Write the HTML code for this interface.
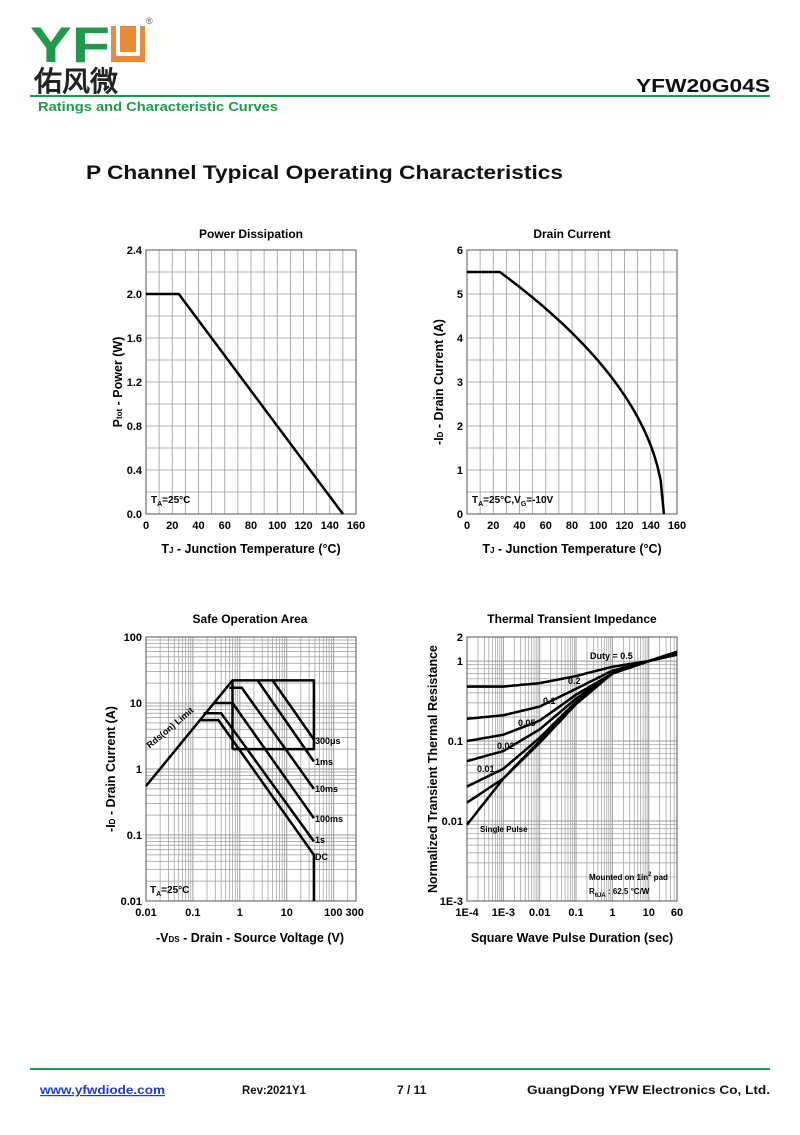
<!DOCTYPE html>
<html><head><meta charset="utf-8"><style>
html,body{margin:0;padding:0;background:#fff}
svg text{font-family:"Liberation Sans",Arial,sans-serif}
</style></head><body>
<svg id="s" width="800" height="1130" xmlns="http://www.w3.org/2000/svg">
<!-- header -->
<text x="30" y="62" font-size="50" font-weight="bold" fill="#1f9a4a" textLength="80" lengthAdjust="spacingAndGlyphs">YF</text>
<rect x="111" y="26" width="34" height="36" fill="#ec8a3c"/>
<path d="M118 26 V54 H138 V26" fill="none" stroke="#fff" stroke-width="4"/>
<text x="146" y="24" font-size="9" fill="#555">®</text>
<text x="34" y="91" font-size="28" font-weight="bold" fill="#222" font-family="'Noto Sans CJK SC',sans-serif">佑风微</text>
<text x="770" y="92" font-size="18" font-weight="bold" text-anchor="end" fill="#111" textLength="134" lengthAdjust="spacingAndGlyphs">YFW20G04S</text>
<rect x="30" y="95" width="740" height="2" fill="#1f9a4a"/>
<text x="38" y="111" font-size="13" font-weight="bold" fill="#1f9a4a" textLength="240" lengthAdjust="spacingAndGlyphs">Ratings and Characteristic Curves</text>
<text x="86" y="179" font-size="19" font-weight="bold" fill="#111" textLength="477" lengthAdjust="spacingAndGlyphs">P Channel Typical Operating Characteristics</text>
<!-- footer -->
<rect x="30" y="1068" width="740" height="2" fill="#1f9a4a"/>
<text x="40" y="1094" font-size="12" font-weight="bold" fill="#1a3fc0" text-decoration="underline" textLength="125" lengthAdjust="spacingAndGlyphs">www.yfwdiode.com</text>
<text x="242" y="1094" font-size="12" font-weight="bold" fill="#111" textLength="64" lengthAdjust="spacingAndGlyphs">Rev:2021Y1</text>
<text x="397" y="1094" font-size="12" font-weight="bold" fill="#111">7 / 11</text>
<text x="527" y="1094" font-size="12" font-weight="bold" fill="#111" textLength="243" lengthAdjust="spacingAndGlyphs">GuangDong YFW Electronics Co, Ltd.</text>
<g id="g"></g>
</svg>
<script>
var g=document.getElementById('g'),h='';
function L(x1,y1,x2,y2,c,w){h+='<line x1="'+x1+'" y1="'+y1+'" x2="'+x2+'" y2="'+y2+'" stroke="'+c+'" stroke-width="'+w+'"/>';}
function T(x,y,t,s,a,extra){h+='<text x="'+x+'" y="'+y+'" font-size="'+s+'" font-weight="bold" text-anchor="'+(a||'start')+'" '+(extra||'')+'>'+t+'</text>';}
function P(pts,w){h+='<polyline fill="none" stroke="#000" stroke-width="'+(w||2.5)+'" stroke-linejoin="round" points="'+pts.map(p=>p[0].toFixed(1)+','+p[1].toFixed(1)).join(' ')+'"/>';}
var GC='#9a9a9a';
function lin(x0,title,ylab,yt,cur,note){
 var l=x0,r=x0+210,t=250,b=514;
 for(var i=0;i<=16;i++)L(l+i*210/16,t,l+i*210/16,b,GC,0.8);
 for(var j=0;j<=12;j++)L(l,t+j*22,r,t+j*22,GC,0.8);
 h+='<rect x="'+l+'" y="'+t+'" width="210" height="264" fill="none" stroke="#555" stroke-width="1"/>';
 T((l+r)/2,238,title,12,'middle');
 for(var j=0;j<=6;j++)T(l-4,b-j*44+4,yt[j],11,'end');
 for(var i=0;i<=8;i++)T(l+i*26.25,529,i*20,11,'middle');
 T((l+r)/2,553,'T<tspan font-size="8">J</tspan> - Junction Temperature (°C)',12.5,'middle','font-weight="normal"');
 T(l-24,382,ylab,12.5,'middle','transform="rotate(-90 '+(l-24)+' 382)"');
 P(cur);
 T(l+5,503,note,10,'start');
}
var c1=[[146,294],[146+25*210/160,294],[146+150*210/160,514]];
lin(146,'Power Dissipation','P<tspan font-size="8">tot</tspan> - Power (W)',['0.0','0.4','0.8','1.2','1.6','2.0','2.4'],c1,'T<tspan font-size="7" dy="3">A</tspan><tspan dy="-3">=25°C</tspan>');
var c2=[[467,272]];
for(var T2=25;T2<=150;T2+=2.5){var I=5.5*Math.sqrt(Math.max(0,(150-T2)/125));c2.push([467+T2*210/160,514-I*44]);}
lin(467,'Drain Current','-I<tspan font-size="8">D</tspan> - Drain Current (A)',['0','1','2','3','4','5','6'],c2,'T<tspan font-size="7" dy="3">A</tspan><tspan dy="-3">=25°C,V</tspan><tspan font-size="7" dy="3">G</tspan><tspan dy="-3">=-10V</tspan>');
function logGrid(l,r,t,b,xa,xb,ya,yb){
 var fx=v=>l+(Math.log10(v)-xa)*(r-l)/(xb-xa),fy=v=>b-(Math.log10(v)-ya)*(b-t)/(yb-ya);
 for(var d=Math.floor(xa);d<=Math.ceil(xb);d++)for(var k=1;k<10;k++){var v=k*Math.pow(10,d),lv=Math.log10(v);if(lv>=xa-1e-9&&lv<=xb+1e-9)L(fx(v),t,fx(v),b,GC,k==1?1:0.7);}
 for(var d=Math.floor(ya);d<=Math.ceil(yb);d++)for(var k=1;k<10;k++){var v=k*Math.pow(10,d),lv=Math.log10(v);if(lv>=ya-1e-9&&lv<=yb+1e-9)L(l,fy(v),r,fy(v),GC,k==1?1:0.7);}
 h+='<rect x="'+l+'" y="'+t+'" width="'+(r-l)+'" height="'+(b-t)+'" fill="none" stroke="#555" stroke-width="1"/>';
 return [fx,fy];
}
var f=logGrid(146,356,637,901,-2,Math.log10(300),-2,2),fx=f[0],fy=f[1];
function PL(a){P(a.map(p=>[fx(p[0]),fy(p[1])]));}
T(250,623,'Safe Operation Area',12,'middle');
[['100',100],['10',10],['1',1],['0.1',0.1],['0.01',0.01]].forEach(a=>T(142,fy(a[1])+4,a[0],11,'end'));
[['0.01',0.01],['0.1',0.1],['1',1],['10',10]].forEach(a=>T(fx(a[1]),916,a[0],11,'middle'));
T(344,916,'100 300',11,'middle');
T(250,942,'-V<tspan font-size="8">DS</tspan> - Drain - Source Voltage (V)',12.5,'middle','font-weight="normal"');
T(115,769,'-I<tspan font-size="8">D</tspan> - Drain Current (A)',12.5,'middle','transform="rotate(-90 115 769)"');
PL([[0.01,0.55],[0.7,22]]);
PL([[0.7,2],[0.7,22],[38,22],[38,2],[0.7,2]]);
PL([[5,22],[38,2.8]]);PL([[2.4,22],[38,1.3]]);
PL([[0.6,17],[1.1,17],[38,0.5]]);PL([[0.29,10],[0.7,10],[38,0.18]]);
PL([[0.17,7],[0.4,7],[38,0.08]]);PL([[0.15,5.5],[0.35,5.5],[38,0.05],[38,0.01]]);
T(315,744,'300μs',9,'start');T(315,765,'1ms',9,'start');T(315,792,'10ms',9,'start');T(315,822,'100ms',9,'start');T(315,843,'1s',9,'start');T(315,860,'DC',9,'start');
T(172,730,'Rds(on) Limit',9,'middle','transform="rotate(-40 172 730)"');
T(150,893,'T<tspan font-size="7" dy="3">A</tspan><tspan dy="-3">=25°C</tspan>',10,'start');
f=logGrid(467,677,637,901,-4,Math.log10(60),-3,Math.log10(2));fx=f[0];fy=f[1];
function PS(a){var q=[];for(var i=0;i<a.length-1;i++){for(var s=0;s<10;s++){var u=s/10,x=Math.pow(10,Math.log10(a[i][0])*(1-u)+Math.log10(a[i+1][0])*u),y=Math.pow(10,Math.log10(a[i][1])*(1-u)+Math.log10(a[i+1][1])*u);q.push([fx(x),fy(y)]);}}q.push([fx(a[a.length-1][0]),fy(a[a.length-1][1])]);P(q);}
T(572,623,'Thermal Transient Impedance',12,'middle');
[['2',2],['1',1],['0.1',0.1],['0.01',0.01],['1E-3',0.001]].forEach(a=>T(463,fy(a[1])+4,a[0],11,'end'));
[['1E-4',1e-4],['1E-3',1e-3],['0.01',0.01],['0.1',0.1],['1',1],['10',10]].forEach(a=>T(fx(a[1]),916,a[0],11,'middle'));
T(677,916,'60',11,'middle');
T(572,942,'Square Wave Pulse Duration (sec)',12.5,'middle','font-weight="normal"');
T(437,769,'Normalized Transient Thermal Resistance',12.5,'middle','transform="rotate(-90 437 769)"');
var E=[[1,0.7],[10,1.0],[60,1.3]];
PS([[1e-4,0.48],[1e-3,0.48],[1e-2,0.53],[0.1,0.65],[1,0.85],[10,1.0],[60,1.2]]);
PS([[1e-4,0.19],[1e-3,0.21],[0.01,0.27],[0.1,0.45]].concat([[1,0.76],[10,1.0],[60,1.25]]));
PS([[1e-4,0.1],[1e-3,0.12],[0.01,0.18],[0.1,0.38]].concat(E));
PS([[1e-4,0.056],[1e-3,0.075],[0.01,0.14],[0.1,0.34]].concat(E));
PS([[1e-4,0.027],[1e-3,0.045],[0.01,0.11],[0.1,0.31]].concat(E));
PS([[1e-4,0.017],[1e-3,0.034],[0.01,0.1],[0.1,0.3]].concat(E));
PS([[1e-4,0.009],[1e-3,0.034],[0.01,0.095],[0.1,0.29]].concat(E));
T(590,659,'Duty =  0.5',9,'start');T(568,684,'0.2',9,'start');T(543,704,'0.1',9,'start');T(518,726,'0.05',9,'start');T(497,749,'0.02',9,'start');T(477,772,'0.01',9,'start');
T(480,832,'Single Pulse',8,'start');
T(589,880,'Mounted on 1in<tspan font-size="6" dy="-4">2</tspan><tspan dy="4"> pad</tspan>',8,'start');
T(589,894,'R<tspan font-size="6" dy="3">θJA</tspan><tspan dy="-3"> : 62.5 °C/W</tspan>',8,'start');
g.innerHTML=h;
</script>
</body></html>
